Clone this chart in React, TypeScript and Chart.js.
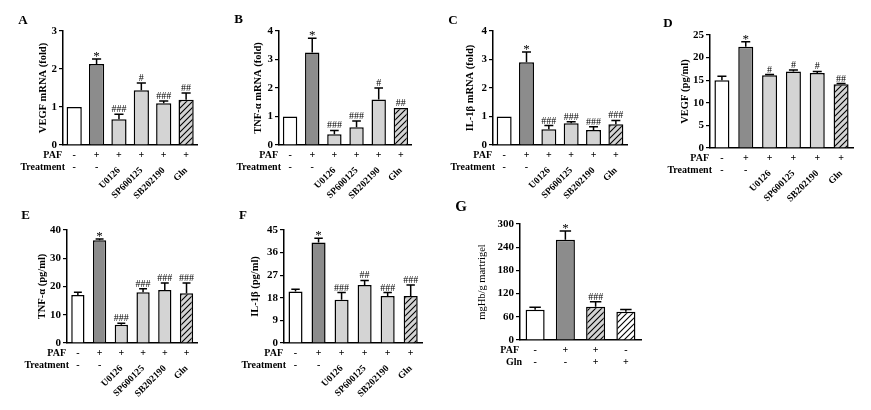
import React, { useEffect, useRef } from 'react';
import { Chart, registerables } from 'chart.js';
Chart.register(...registerables);

// ---------- data ----------
const groups6 = ['Control', 'PAF', 'U0126', 'SP600125', 'SB202190', 'Gln'];
const treatmentLabels = ['', '', 'U0126', 'SP600125', 'SB202190', 'Gln'];
const pafRow6 = ['-', '+', '+', '+', '+', '+'];
const treatRow6 = ['-', '-', '', '', '', ''];
const fills6 = ['white', 'dark', 'light', 'light', 'light', 'hatch'];

const vegfMrna = [1.0, 2.13, 0.68, 1.44, 1.1, 1.19];
const vegfMrnaErr = [0, 0.13, 0.13, 0.19, 0.06, 0.18];
const vegfMrnaMarks = ['', '*', '###', '#', '###', '##'];

const tnfMrna = [1.0, 3.25, 0.38, 0.62, 1.6, 1.3];
const tnfMrnaErr = [0, 0.5, 0.13, 0.22, 0.4, 0];
const tnfMrnaMarks = ['', '*', '###', '###', '#', '##'];

const il1bMrna = [1.0, 2.9, 0.55, 0.76, 0.53, 0.73];
const il1bMrnaErr = [0, 0.36, 0.13, 0.06, 0.11, 0.13];
const il1bMrnaMarks = ['', '*', '###', '###', '###', '###'];

const vegfProt = [15, 22.4, 16.1, 16.9, 16.6, 14.1];
const vegfProtErr = [0.9, 1.1, 0.15, 0.35, 0.35, 0.15];
const vegfProtMarks = ['', '*', '#', '#', '#', '##'];

const tnfProt = [17, 36.4, 6.5, 18, 18.8, 17.6];
const tnfProtErr = [1, 0.4, 0.5, 1.2, 2.4, 3.6];
const tnfProtMarks = ['', '*', '###', '###', '###', '###'];

const il1bProt = [20.5, 40, 17.2, 23.1, 18.7, 18.7];
const il1bProtErr = [0.9, 1.7, 2.9, 1.8, 1.4, 4.4];
const il1bProtMarks = ['', '*', '###', '##', '###', '###'];

const groupsG = ['Control', 'PAF', 'PAF+Gln', 'Gln'];
const pafRowG = ['-', '+', '+', '-'];
const glnRowG = ['-', '-', '+', '+'];
const fillsG = ['white', 'dark', 'hatch', 'hatchWhite'];
const hbValues = [78, 259, 86, 73];
const hbErr = [7, 23, 13, 6];
const hbMarks = ['', '*', '###', ''];

// ---------- style ----------
const SERIF = '"Liberation Serif", "Times New Roman", serif';
const DARK = '#8c8c8c';
const LIGHT = '#d4d4d4';
const TITLE_SIZE = 10.5;

function hatch(bg: string): CanvasPattern | string {
  const c = document.createElement('canvas');
  c.width = 6; c.height = 6;
  const g = c.getContext('2d');
  if (!g) return bg;
  g.fillStyle = bg; g.fillRect(0, 0, 6, 6);
  g.strokeStyle = '#000'; g.lineWidth = 1.1;
  g.beginPath();
  g.moveTo(0, 6); g.lineTo(6, 0);
  g.moveTo(-1, 1); g.lineTo(1, -1);
  g.moveTo(5, 7); g.lineTo(7, 5);
  g.stroke();
  return g.createPattern(c, 'repeat') || bg;
}

function fillFor(kind: string): any {
  if (kind === 'white') return '#ffffff';
  if (kind === 'dark') return DARK;
  if (kind === 'light') return LIGHT;
  if (kind === 'hatch') return hatch(LIGHT);
  return hatch('#ffffff');
}

type PanelCfg = {
  letter: string; letterPos: [number, number]; letterSize: number;
  box: { x: number; y: number; w: number; h: number };
  area: { left: number; top: number; right: number; bottom: number };
  titleX: number; title: string; titleBold: boolean;
  yMax: number; yStep: number;
  categories: string[]; rotLabels: string[] | null;
  values: number[]; errors: number[]; marks: string[]; fills: string[];
  rowNames: string[]; rows: string[][];
  barPct: number;
};

const panels: PanelCfg[] = [
  {
    letter: 'A', letterPos: [23, 21], letterSize: 13,
    box: { x: 0, y: 0, w: 215, h: 205 }, area: { left: 63, top: 31, right: 205, bottom: 145 },
    titleX: 43, title: 'VEGF mRNA (fold)', titleBold: true, yMax: 3, yStep: 1,
    categories: groups6, rotLabels: treatmentLabels,
    values: vegfMrna, errors: vegfMrnaErr, marks: vegfMrnaMarks, fills: fills6,
    rowNames: ['PAF', 'Treatment'], rows: [pafRow6, treatRow6], barPct: 0.68,
  },
  {
    letter: 'B', letterPos: [238.5, 20], letterSize: 13,
    box: { x: 215, y: 0, w: 215, h: 205 }, area: { left: 279, top: 31, right: 417, bottom: 145 },
    titleX: 258, title: 'TNF-α mRNA (fold)', titleBold: true, yMax: 4, yStep: 1,
    categories: groups6, rotLabels: treatmentLabels,
    values: tnfMrna, errors: tnfMrnaErr, marks: tnfMrnaMarks, fills: fills6,
    rowNames: ['PAF', 'Treatment'], rows: [pafRow6, treatRow6], barPct: 0.65,
  },
  {
    letter: 'C', letterPos: [453, 21], letterSize: 13,
    box: { x: 430, y: 0, w: 215, h: 205 }, area: { left: 493, top: 31, right: 632, bottom: 145 },
    titleX: 470, title: 'IL-1β mRNA (fold)', titleBold: true, yMax: 4, yStep: 1,
    categories: groups6, rotLabels: treatmentLabels,
    values: il1bMrna, errors: il1bMrnaErr, marks: il1bMrnaMarks, fills: fills6,
    rowNames: ['PAF', 'Treatment'], rows: [pafRow6, treatRow6], barPct: 0.67,
  },
  {
    letter: 'D', letterPos: [668, 24], letterSize: 13,
    box: { x: 645, y: 0, w: 226, h: 205 }, area: { left: 710, top: 35, right: 853, bottom: 148 },
    titleX: 685, title: 'VEGF (pg/ml)', titleBold: true, yMax: 25, yStep: 5,
    categories: groups6, rotLabels: treatmentLabels,
    values: vegfProt, errors: vegfProtErr, marks: vegfProtMarks, fills: fills6,
    rowNames: ['PAF', 'Treatment'], rows: [pafRow6, treatRow6], barPct: 0.63,
  },
  {
    letter: 'E', letterPos: [25.5, 216], letterSize: 13,
    box: { x: 0, y: 200, w: 215, h: 210 }, area: { left: 67, top: 230, right: 210, bottom: 343 },
    titleX: 42, title: 'TNF-α (pg/ml)', titleBold: true, yMax: 40, yStep: 10,
    categories: groups6, rotLabels: treatmentLabels,
    values: tnfProt, errors: tnfProtErr, marks: tnfProtMarks, fills: fills6,
    rowNames: ['PAF', 'Treatment'], rows: [pafRow6, treatRow6], barPct: 0.61,
  },
  {
    letter: 'F', letterPos: [243, 216], letterSize: 13,
    box: { x: 215, y: 200, w: 225, h: 210 }, area: { left: 284, top: 230, right: 425, bottom: 343 },
    titleX: 255, title: 'IL-1β (pg/ml)', titleBold: true, yMax: 45, yStep: 9,
    categories: groups6, rotLabels: treatmentLabels,
    values: il1bProt, errors: il1bProtErr, marks: il1bProtMarks, fills: fills6,
    rowNames: ['PAF', 'Treatment'], rows: [pafRow6, treatRow6], barPct: 0.61,
  },
  {
    letter: 'G', letterPos: [461, 207], letterSize: 15,
    box: { x: 440, y: 200, w: 240, h: 210 }, area: { left: 520, top: 224, right: 641, bottom: 340 },
    titleX: 482, title: 'mgHb/g martrigel', titleBold: false, yMax: 300, yStep: 60,
    categories: groupsG, rotLabels: null,
    values: hbValues, errors: hbErr, marks: hbMarks, fills: fillsG,
    rowNames: ['PAF', 'Gln'], rows: [pafRowG, glnRowG], barPct: 0.63,
  },
];

function Panel({ cfg }: { cfg: PanelCfg }) {
  const ref = useRef<HTMLCanvasElement | null>(null);
  useEffect(() => {
    const canvas = ref.current;
    if (!canvas) return;
    const { box, area } = cfg;
    const titleHalf = TITLE_SIZE * 1.2 / 2;
    const padLeft = cfg.titleX - titleHalf - box.x;
    const yW = area.left - (cfg.titleX - titleHalf);
    const padTop = area.top - box.y;
    const padRight = box.x + box.w - area.right;
    const xH = box.y + box.h - area.bottom;

    const overlay = {
      id: 'overlay',
      afterDatasetsDraw(chart: any) {
        const ctx = chart.ctx;
        const meta = chart.getDatasetMeta(0);
        const ys = chart.scales.y;
        ctx.save();
        ctx.strokeStyle = '#000';
        ctx.fillStyle = '#000';
        ctx.lineWidth = 1.5;
        meta.data.forEach((el: any, i: number) => {
          const v = cfg.values[i];
          const e = cfg.errors[i];
          const x = el.x;
          const yBar = ys.getPixelForValue(v);
          const yTop = ys.getPixelForValue(v + e);
          const half = el.width * 0.3;
          if (e > 0) {
            ctx.beginPath();
            ctx.moveTo(x, yBar);
            ctx.lineTo(x, yTop);
            ctx.moveTo(x - half, yTop);
            ctx.lineTo(x + half, yTop);
            ctx.stroke();
          }
          const m = cfg.marks[i];
          if (m) {
            ctx.textAlign = 'center';
            ctx.textBaseline = 'alphabetic';
            if (m === '*') {
              ctx.font = `13px ${SERIF}`;
              ctx.fillText(m, x, yTop + 1);
            } else {
              ctx.font = `10px ${SERIF}`;
              ctx.fillText(m, x, yTop - 2);
            }
          }
        });
        ctx.restore();
      },
      afterDraw(chart: any) {
        const ctx = chart.ctx;
        const xs = chart.scales.x;
        const bottom = chart.chartArea.bottom;
        const left = chart.chartArea.left;
        ctx.save();
        ctx.fillStyle = '#000';
        ctx.textBaseline = 'middle';
        ctx.font = `bold 10px ${SERIF}`;
        const rowY = [bottom + 10.5, bottom + 22];
        cfg.rowNames.forEach((name, r) => {
          ctx.textAlign = 'right';
          ctx.fillText(name, left + (r === 0 ? -1 : 2), rowY[r]);
          ctx.textAlign = 'center';
          cfg.rows[r].forEach((s, i) => {
            if (s) ctx.fillText(s, xs.getPixelForValue(i), rowY[r]);
          });
        });
        ctx.font = `bold ${cfg.letterSize}px ${SERIF}`;
        ctx.textAlign = 'center';
        ctx.fillText(cfg.letter, cfg.letterPos[0] - box.x, cfg.letterPos[1] - box.y);
        ctx.restore();
      },
    };

    const chart = new Chart(canvas, {
      type: 'bar',
      data: {
        labels: cfg.rotLabels ? cfg.rotLabels : cfg.categories.map(() => ''),
        datasets: [{
          label: cfg.title,
          data: cfg.values,
          backgroundColor: cfg.fills.map(fillFor),
          borderColor: '#000',
          borderWidth: 1.5,
          barPercentage: cfg.barPct,
          categoryPercentage: 1,
        }],
      },
      options: {
        responsive: false,
        animation: false,
        devicePixelRatio: 1,
        layout: { padding: { left: padLeft, top: padTop, right: padRight, bottom: 0 } },
        plugins: { legend: { display: false }, tooltip: { enabled: false } },
        scales: {
          x: {
            type: 'category',
            grid: { display: false, drawTicks: false },
            border: { display: true, color: '#000', width: 1.5 },
            ticks: {
              display: !!cfg.rotLabels,
              autoSkip: false,
              minRotation: 45,
              maxRotation: 45,
              padding: 20,
              color: '#000',
              font: { family: SERIF, weight: 'bold', size: 9.5 },
            },
            afterFit: (s: any) => { s.height = xH; },
          },
          y: {
            min: 0,
            max: cfg.yMax,
            ticks: { stepSize: cfg.yStep, color: '#000', padding: 2, font: { family: SERIF, weight: 'bold', size: 11 } },
            grid: { drawOnChartArea: false, drawTicks: true, tickLength: 4, color: '#000', lineWidth: 1.2 },
            border: { display: true, color: '#000', width: 1.5 },
            title: {
              display: true,
              text: cfg.title,
              color: '#000',
              padding: 0,
              font: { family: SERIF, size: TITLE_SIZE, weight: cfg.titleBold ? 'bold' : 'normal' },
            },
            afterFit: (s: any) => { s.width = yW; },
          },
        },
      } as any,
      plugins: [overlay as any],
    });
    return () => { chart.destroy(); };
  }, [cfg]);
  return (
    <canvas
      ref={ref}
      width={cfg.box.w}
      height={cfg.box.h}
      style={{ position: 'absolute', left: cfg.box.x, top: cfg.box.y, width: cfg.box.w, height: cfg.box.h }}
    />
  );
}

export default function App() {
  return (
    <div style={{ position: 'absolute', left: 0, top: 0, width: 871, height: 410, background: '#fff', overflow: 'hidden' }}>
      {panels.map((p) => <Panel key={p.letter} cfg={p} />)}
    </div>
  );
}
